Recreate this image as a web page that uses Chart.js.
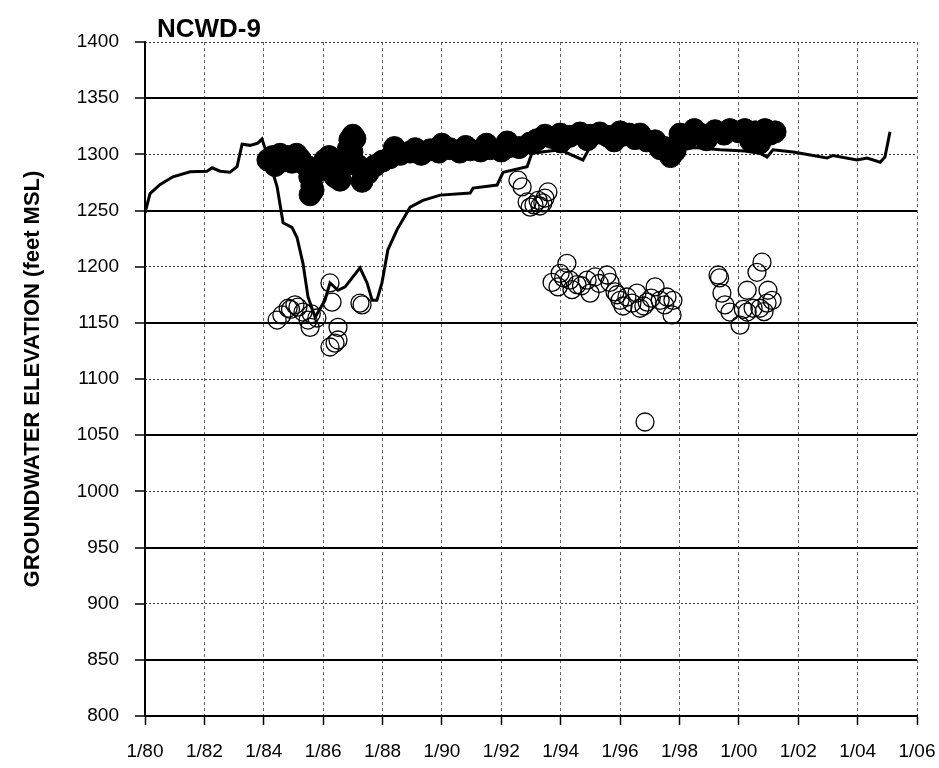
<!DOCTYPE html>
<html>
<head>
<meta charset="utf-8">
<script src="https://cdn.jsdelivr.net/npm/chart.js@4/dist/chart.umd.min.js"></script>
<style>
  html, body { margin: 0; padding: 0; background: #ffffff; }
  #wrap { width: 939px; height: 768px; position: relative; }
</style>
</head>
<body>
<div id="wrap"><canvas id="c" width="939" height="768"></canvas></div>
<script>
// ---- Data (decimal years, feet MSL) ----
const chartTitle = "NCWD-9";
const yAxisTitle = "GROUNDWATER ELEVATION (feet MSL)";
const xTickYears = [1980, 1982, 1984, 1986, 1988, 1990, 1992, 1994, 1996, 1998, 2000, 2002, 2004, 2006];
const yTickValues = [800, 850, 900, 950, 1000, 1050, 1100, 1150, 1200, 1250, 1300, 1350, 1400];

const lineYears = [1980.0, 1980.17, 1980.5, 1980.94, 1981.52, 1982.09, 1982.26, 1982.53, 1982.86, 1983.1,
  1983.27, 1983.54, 1983.8, 1983.94, 1984.21, 1984.45, 1984.65, 1984.95, 1985.12, 1985.32,
  1985.49, 1985.73, 1986.06, 1986.23, 1986.5, 1986.74, 1987.24, 1987.48, 1987.65, 1987.81,
  1987.98, 1988.18, 1988.49, 1988.93, 1989.36, 1989.94, 1990.95, 1991.05, 1991.86, 1992.06,
  1992.87, 1993.03, 1993.98, 1994.75, 1995.06, 1995.76, 1996.1, 1996.34, 1996.91, 1997.25,
  1997.68, 1998.5, 1999.37, 2000.2, 2000.71, 2000.95, 2001.15, 2001.83, 2002.5, 2002.97,
  2003.17, 2003.98, 2004.32, 2004.76, 2004.92, 2005.09];
const lineValues = [1248, 1265, 1273, 1280, 1284.5, 1285, 1288, 1285, 1284, 1289,
  1309, 1308, 1310, 1313.6, 1292, 1271, 1239, 1235, 1226, 1203,
  1173, 1155, 1170, 1185.5, 1179, 1182, 1199, 1185.5, 1170, 1170,
  1185.5, 1215, 1233, 1253, 1259, 1263.7, 1265.5, 1270, 1272.7, 1284,
  1289, 1301, 1304, 1295, 1310, 1311, 1308, 1310, 1305.6, 1306.5,
  1302, 1306, 1304, 1303, 1301, 1297.6, 1304, 1302, 1299, 1296.7,
  1299, 1295, 1296.7, 1293, 1297.6, 1320];

const filledYears = [1984.14, 1984.3, 1984.38, 1984.55, 1984.65, 1984.8, 1984.95, 1985.1, 1985.22, 1985.42,
  1985.55, 1985.62, 1985.56, 1985.66, 1985.8, 1986.06, 1986.2, 1986.3, 1986.4, 1986.57,
  1986.74, 1986.85, 1986.9, 1987.0, 1987.07, 1986.97, 1987.17, 1987.31, 1987.5, 1987.75,
  1988.0, 1988.25, 1988.6, 1988.93, 1989.3, 1989.6, 1989.9, 1990.27, 1990.6, 1990.95,
  1991.3, 1991.62, 1992.0, 1992.29, 1992.6, 1992.97, 1993.2, 1993.47, 1993.7, 1993.98,
  1994.3, 1994.65, 1995.0, 1995.32, 1995.6, 1996.0, 1996.3, 1996.67, 1996.9, 1997.18,
  1997.35, 1997.51, 1997.7, 1997.85, 1998.02, 1998.3, 1998.5, 1998.69, 1998.9, 1999.2,
  1999.5, 1999.7, 2000.0, 2000.2, 2000.4, 2000.55, 2000.7, 2000.88, 2001.05, 2001.22,
  1988.4, 1989.1, 1990.0, 1990.8, 1991.5, 1992.2, 1994.0, 1994.9, 1995.8, 1996.5];
const filledValues = [1295, 1298, 1290, 1300, 1294, 1298, 1293, 1300, 1296, 1290,
  1280, 1272, 1264, 1268, 1285, 1295, 1298, 1288, 1280, 1277,
  1290, 1305, 1313, 1317, 1314, 1302, 1290, 1276, 1283, 1290,
  1294, 1297, 1300, 1302, 1300, 1304, 1302, 1305, 1302, 1304,
  1303, 1305, 1303, 1307, 1306, 1310, 1313, 1317, 1315, 1318,
  1316, 1319, 1317, 1319, 1316, 1320, 1318, 1318, 1312, 1312,
  1305, 1306, 1298, 1303, 1318, 1315, 1322, 1318, 1313, 1321,
  1318, 1322, 1320, 1322, 1312, 1320, 1310, 1322, 1318, 1320,
  1306, 1305, 1309, 1307, 1309, 1311, 1311, 1313, 1312, 1314];

const openYears = [1984.45, 1984.61, 1984.82, 1985.05, 1985.32, 1985.49, 1985.56, 1985.79, 1986.23, 1986.3,
  1986.5, 1986.23, 1986.4, 1986.5, 1987.24, 1987.31, 1984.9, 1985.15, 1985.6,
  1992.56, 1992.7, 1992.87, 1992.97, 1993.24, 1993.4, 1993.47, 1993.57, 1993.1, 1993.3,
  1993.71, 1993.98, 1994.21, 1993.91, 1994.31, 1994.55, 1994.38, 1994.89, 1994.99, 1995.16,
  1995.56, 1995.66, 1995.83, 1996.0, 1996.23, 1996.4, 1996.57, 1996.67, 1996.91, 1997.18,
  1997.35, 1997.58, 1997.78, 1997.75, 1996.84,
  1994.1, 1994.7, 1995.3, 1995.9, 1996.1, 1996.8, 1997.05, 1997.5,
  1999.3, 1999.43, 1999.53, 1999.7, 2000.04, 2000.28, 2000.28, 2000.48, 2000.61, 2000.78,
  2000.98, 2000.95, 2001.12, 2000.71, 1999.35, 2000.15, 2000.85];
const openValues = [1152.5, 1157, 1163, 1166, 1159.6, 1152.5, 1146, 1154.3, 1185.5, 1168.5,
  1146, 1128.5, 1132, 1134.7, 1167.6, 1166, 1162, 1164, 1158,
  1277, 1271, 1257.6, 1253, 1259, 1256.7, 1261, 1266.5, 1255, 1254,
  1186, 1194, 1203, 1182, 1188, 1184, 1179.5, 1188, 1176.5, 1191,
  1192.6, 1186, 1177.5, 1170, 1173, 1167.6, 1176.5, 1163, 1168.5, 1182,
  1170, 1173, 1170, 1157, 1061.7,
  1190, 1183, 1185, 1175, 1165, 1165, 1172, 1166,
  1192.6, 1176.5, 1166, 1159.6, 1148, 1179, 1159.6, 1163, 1195, 1204,
  1179, 1167.6, 1170, 1163, 1190, 1162, 1160];

const toPoints = (xs, ys) => xs.map((x, i) => ({ x: x, y: ys[i] }));

const FONT = "'Liberation Sans', Arial, sans-serif";

const titlePlugin = {
  id: 'cornerTitle',
  afterDraw(chart) {
    const ctx = chart.ctx;
    ctx.save();
    ctx.font = "bold 26px " + FONT;
    ctx.fillStyle = '#000';
    ctx.textAlign = 'left';
    ctx.textBaseline = 'alphabetic';
    ctx.fillText(chartTitle, chart.chartArea.left + 12, chart.chartArea.top - 5);
    ctx.restore();
  }
};

new Chart(document.getElementById('c'), {
  type: 'scatter',
  data: {
    datasets: [
      {
        label: 'Filled',
        data: toPoints(filledYears, filledValues),
        pointRadius: 11,
        pointHoverRadius: 11,
        backgroundColor: '#000',
        borderColor: '#000',
        borderWidth: 1,
        showLine: false
      },
      {
        label: 'Line',
        data: toPoints(lineYears, lineValues),
        showLine: true,
        pointRadius: 0,
        borderColor: '#000',
        borderWidth: 3,
        tension: 0,
        fill: false
      },
      {
        label: 'Open',
        data: toPoints(openYears, openValues),
        pointRadius: 9,
        pointHoverRadius: 9,
        backgroundColor: 'rgba(0,0,0,0)',
        borderColor: '#000',
        borderWidth: 1.3,
        showLine: false
      }
    ]
  },
  options: {
    responsive: false,
    animation: false,
    events: [],
    layout: { padding: { top: 42, right: 22, left: 0, bottom: 0 } },
    plugins: {
      legend: { display: false },
      tooltip: { enabled: false },
      title: { display: false }
    },
    scales: {
      x: {
        type: 'linear',
        min: 1980,
        max: 2006,
        afterBuildTicks: (s) => { s.ticks = xTickYears.map(v => ({ value: v })); },
        afterFit: (s) => { s.height = 52; s.paddingRight = 0; s.paddingLeft = 0; },
        ticks: {
          color: '#000',
          font: { family: FONT, size: 19 },
          padding: 15,
          maxRotation: 0,
          autoSkip: false,
          callback: (v) => '1/' + String(v % 100).padStart(2, '0')
        },
        grid: {
          color: '#666',
          lineWidth: 1,
          tickLength: 9,
          tickColor: '#000',
          tickWidth: 1.5,
          drawTicks: true
        },
        border: { display: true, color: '#000', width: 2, dash: [3, 3] }
      },
      y: {
        type: 'linear',
        position: 'left',
        min: 800,
        max: 1400,
        afterBuildTicks: (s) => { s.ticks = yTickValues.map(v => ({ value: v })); },
        afterFit: (s) => { s.width = 145; },
        title: {
          display: true,
          text: yAxisTitle,
          color: '#000',
          font: { family: FONT, size: 22, weight: 'bold' },
          padding: { top: 20, bottom: 0 }
        },
        ticks: {
          color: '#000',
          font: { family: FONT, size: 19 },
          padding: 16,
          callback: (v) => String(v)
        },
        grid: {
          color: '#000',
          lineWidth: (ctx) => (ctx.tick && ctx.tick.value % 100 === 50) ? 2 : 0,
          tickLength: 10,
          tickColor: '#000',
          tickWidth: 1.5,
          drawTicks: true
        },
        border: { display: true, color: '#000', width: 2 }
      },
      y2: {
        type: 'linear',
        position: 'left',
        min: 800,
        max: 1400,
        afterBuildTicks: (s) => { s.ticks = yTickValues.filter(v => v % 100 === 0).map(v => ({ value: v })); },
        afterFit: (s) => { s.width = 0; },
        ticks: { display: false },
        grid: { color: '#333', lineWidth: 1, drawTicks: false },
        border: { display: false, dash: [2, 2] }
      }
    }
  },
  plugins: [titlePlugin]
});
</script>
</body>
</html>
